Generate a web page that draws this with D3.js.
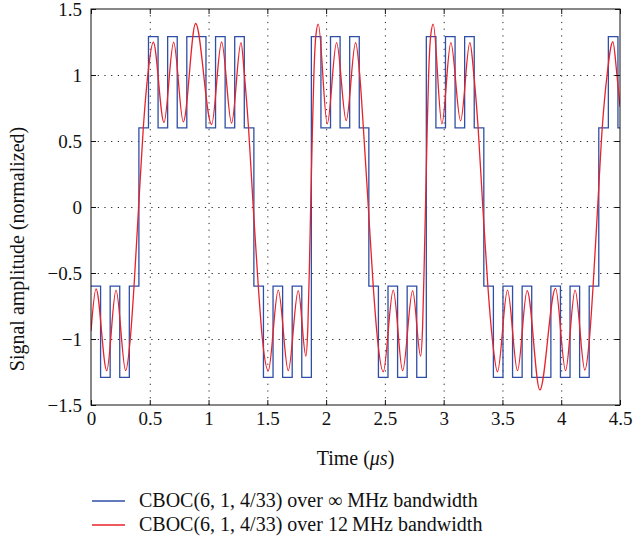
<!DOCTYPE html>
<meta charset="utf-8">
<html>
<head>
  <script src="https://d3js.org/d3.v7.min.js" charset="utf-8"></script>
  <style>
    body { margin: 0; background: white; }
    text { font-family: 'Liberation Serif', 'DejaVu Serif', serif; fill: #111; }
    .tick text { font-size: 19px; }
    .axis path { stroke: none; }
    .axis line { stroke: #111; stroke-width: 1; }
    .grid line { stroke: #222; stroke-width: 1; stroke-dasharray: 1.2 5.5; }
    .grid path { stroke: none; }
    .box { fill: none; stroke: #111; stroke-width: 1; }
  </style>
</head>
<body>
<script>
  // Tick values
  var xTicks = [0, 0.5, 1, 1.5, 2, 2.5, 3, 3.5, 4, 4.5];
  var yTicks = [-1.5, -1, -0.5, 0, 0.5, 1, 1.5];

  // Unfiltered CBOC chips: one level per BOC(6,1) half period (us)
  var slotUs = 0.0815;
  var blueLevels = [
    -0.6, -1.29, -0.6, -1.29, -0.6,
    0.6, 1.29, 0.6, 1.29, 0.6, 1.29,
    1.29, 0.6, 1.29, 0.6, 1.29, 0.6,
    -0.6, -1.29, -0.6, -1.29, -0.6, -1.29,
    1.29, 0.6, 1.29, 0.6, 1.29, 0.6,
    -0.6, -1.29, -0.6, -1.29, -0.6, -1.29,
    1.29, 0.6, 1.29, 0.6, 1.29, 0.6,
    -0.6, -1.29, -0.6, -1.29, -0.6, -1.29,
    -1.29, -0.6, -1.29, -0.6, -1.29, -0.6,
    0.6, 1.29, 0.6
  ];

  // 12 MHz filtered signal
  var redTimes = [
    0.000, 0.043, 0.134, 0.213, 0.295, 0.334, 0.366, 0.405, 0.445, 0.483,
    0.530, 0.621, 0.703, 0.785, 0.890, 1.026, 1.111, 1.196, 1.276, 1.305,
    1.340, 1.380, 1.423, 1.458, 1.508, 1.593, 1.678, 1.763, 1.828, 1.845,
    1.858, 1.871, 1.884, 1.896, 1.913, 1.933, 2.010, 2.089, 2.171, 2.251,
    2.286, 2.317, 2.359, 2.401, 2.437, 2.486, 2.571, 2.651, 2.736, 2.804,
    2.821, 2.834, 2.848, 2.860, 2.872, 2.890, 2.911, 2.985, 3.061, 3.144,
    3.223, 3.257, 3.293, 3.333, 3.376, 3.414, 3.458, 3.543, 3.628, 3.710,
    3.818, 3.952, 4.037, 4.118, 4.201, 4.240, 4.271, 4.310, 4.349, 4.390,
    4.439, 4.474, 4.500
  ];
  var redValues = [
    -0.94, -0.62, -1.24, -0.63, -1.24, -1.0, -0.6, 0.0, 0.6, 1.0,
    1.248, 0.64, 1.248, 0.645, 1.39, 0.625, 1.25, 0.635, 1.245, 1.0,
    0.6, 0.0, -0.6, -1.0, -1.24, -0.63, -1.24, -0.634, -1.13, -0.9,
    -0.45, 0.1, 0.6, 1.0, 1.3, 1.386, 0.63, 1.245, 0.654, 1.245,
    1.0, 0.6, 0.0, -0.6, -1.0, -1.248, -0.63, -1.24, -0.634, -1.13,
    -0.9, -0.45, 0.1, 0.6, 1.0, 1.3, 1.386, 0.63, 1.245, 0.652,
    1.245, 1.0, 0.6, 0.0, -0.6, -1.0, -1.248, -0.63, -1.24, -0.634,
    -1.386, -0.616, -1.24, -0.63, -1.235, -1.0, -0.6, 0.0, 0.6, 1.0,
    1.252, 1.0, 0.76
  ];

  var legendLabels = [
    "CBOC(6, 1, 4/33) over \u221e MHz bandwidth",
    "CBOC(6, 1, 4/33) over 12\u2009MHz bandwidth"
  ];
  var blueColor = "#2f4fa6", redColor = "#e8222a";

  var W = 635, H = 548;
  var m = { top: 9, right: 15, bottom: 143, left: 91 },
    w = W - m.left - m.right,
    h = H - m.top - m.bottom;

  var svg = d3.select("body").append("svg")
    .attr("width", W).attr("height", H);

  var g = svg.append("g").attr("transform", `translate(${m.left}, ${m.top})`);

  var x = d3.scaleLinear().domain([0, 4.5]).range([0, w]);
  var y = d3.scaleLinear().domain([-1.5, 1.5]).range([h, 0]);
  var fmt = d3.format("~g");

  g.append("defs").append("clipPath").attr("id", "clip")
    .append("rect").attr("width", w).attr("height", h);

  // Grid
  g.append("g").attr("class", "grid")
    .attr("transform", `translate(0, ${h})`)
    .call(d3.axisBottom(x).tickValues(xTicks.slice(1, -1)).tickSize(-h).tickFormat(""));
  g.append("g").attr("class", "grid")
    .call(d3.axisLeft(y).tickValues(yTicks.slice(1, -1)).tickSize(-w).tickFormat(""));

  // Signals
  var bluePts = blueLevels.map((v, i) => [i * slotUs, v]);
  bluePts.push([4.5, blueLevels[blueLevels.length - 1]]);

  var plot = g.append("g").attr("clip-path", "url(#clip)");

  plot.append("path")
    .datum(bluePts)
    .attr("fill", "none")
    .attr("stroke", blueColor)
    .attr("stroke-width", 1.3)
    .attr("d", d3.line().x(d => x(d[0])).y(d => y(d[1])).curve(d3.curveStepAfter));

  plot.append("path")
    .datum(redTimes.map((t, i) => [t, redValues[i]]))
    .attr("fill", "none")
    .attr("stroke", redColor)
    .attr("stroke-width", 1.3)
    .attr("d", d3.line().x(d => x(d[0])).y(d => y(d[1])).curve(d3.curveMonotoneX));

  // Axes with inward ticks
  g.append("g").attr("class", "axis")
    .attr("transform", `translate(0, ${h})`)
    .call(d3.axisBottom(x).tickValues(xTicks).tickSize(-5).tickPadding(7).tickFormat(fmt));
  g.append("g").attr("class", "axis")
    .call(d3.axisTop(x).tickValues(xTicks).tickSize(-5).tickFormat(""));
  g.append("g").attr("class", "axis")
    .call(d3.axisLeft(y).tickValues(yTicks).tickSize(-5).tickPadding(9).tickFormat(fmt));
  g.append("g").attr("class", "axis")
    .attr("transform", `translate(${w}, 0)`)
    .call(d3.axisRight(y).tickValues(yTicks).tickSize(-5).tickFormat(""));

  g.selectAll(".axis .tick text").attr("fill", "#111");

  g.append("rect").attr("class", "box").attr("width", w).attr("height", h);

  // Axis labels
  var xl = svg.append("text")
    .attr("x", m.left + w / 2).attr("y", 465)
    .attr("text-anchor", "middle")
    .style("font-size", "20px");
  xl.append("tspan").text("Time (");
  xl.append("tspan").style("font-style", "italic").text("\u03bcs");
  xl.append("tspan").text(")");

  svg.append("text")
    .attr("transform", "translate(24, 249) rotate(-90)")
    .attr("text-anchor", "middle")
    .style("font-size", "20px")
    .text("Signal amplitude (normalized)");

  // Legend
  var leg = svg.append("g");
  [blueColor, redColor].forEach((c, i) => {
    var yy = 501 + i * 24;
    leg.append("line").attr("x1", 92).attr("x2", 125).attr("y1", yy).attr("y2", yy)
      .attr("stroke", c).attr("stroke-width", 1.3);
    leg.append("text").attr("x", 139).attr("y", yy + 6)
      .style("font-size", "20px").text(legendLabels[i]);
  });
</script>
</body>
</html>
